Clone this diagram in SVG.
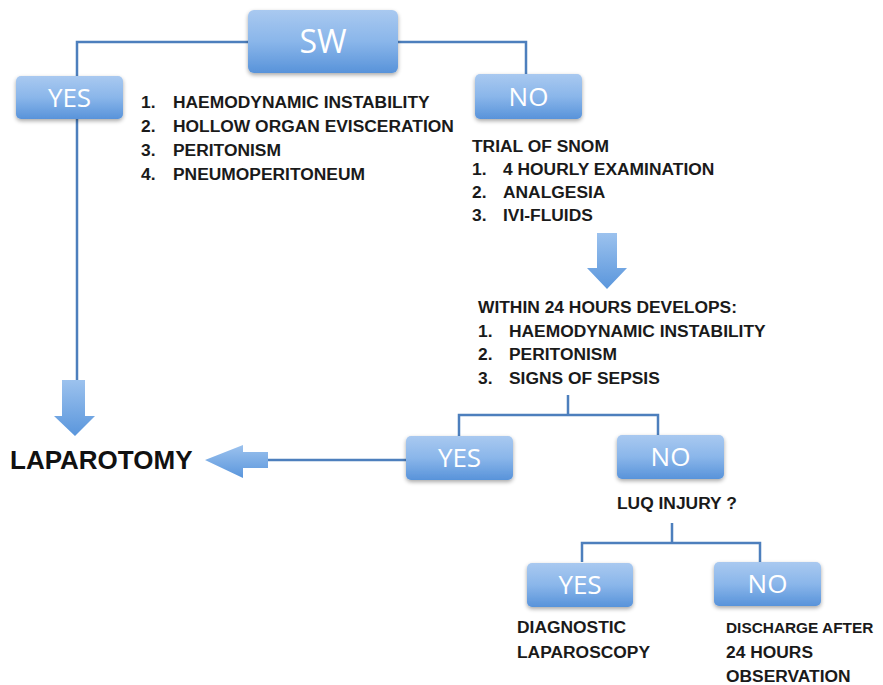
<svg xmlns="http://www.w3.org/2000/svg" width="883" height="685" viewBox="0 0 883 685">
<defs>
<linearGradient id="boxg" x1="0" y1="0" x2="0" y2="1">
<stop offset="0" stop-color="#a9c9f0"/>
<stop offset="0.5" stop-color="#8ab6ea"/>
<stop offset="1" stop-color="#5893da"/>
</linearGradient>
<linearGradient id="arrv" x1="0" y1="0" x2="0" y2="1">
<stop offset="0" stop-color="#9cc2ee"/>
<stop offset="1" stop-color="#5a96dc"/>
</linearGradient>
<linearGradient id="arrh" x1="0" y1="0" x2="0" y2="1">
<stop offset="0" stop-color="#9cc2ee"/>
<stop offset="1" stop-color="#5a96dc"/>
</linearGradient>
<filter id="sh" x="-10%" y="-10%" width="120%" height="140%">
<feGaussianBlur in="SourceAlpha" stdDeviation="2"/>
<feOffset dx="0" dy="2" result="b"/>
<feComponentTransfer><feFuncA type="linear" slope="0.35"/></feComponentTransfer>
<feMerge><feMergeNode/><feMergeNode in="SourceGraphic"/></feMerge>
</filter>
</defs>
<style>
.box{fill:url(#boxg);filter:url(#sh)}
.lbl{font-family:"Open Sans","Liberation Sans",sans-serif;fill:#ffffff;text-anchor:middle;font-size:26px}
.t{font-family:"Liberation Sans",Arial,sans-serif;font-weight:bold;font-size:17.4px;fill:#1a1a1a}
.big{font-family:"Liberation Sans",Arial,sans-serif;font-weight:bold;font-size:26px;fill:#111111}
.ln{fill:none;stroke:#4d7fbd;stroke-width:2.5}
.arr{stroke:none}
</style>
<rect width="883" height="685" fill="#ffffff"/>

<g id="connectors">
<path class="ln" d="M248,42 H77 V76"/>
<path class="ln" d="M398,42 H526 V74"/>
<path class="ln" d="M77,119 V381"/>
<path class="ln" d="M568,395 V415 M459,436 V415 H658 V435"/>
<path class="ln" d="M268,460 H406"/>
<path class="ln" d="M672,523 V543 M582,562 V543 H760 V562"/>
<path class="arr" fill="url(#arrv)" d="M62,380 H85 V416 H95 L75,436 L54,416 H62 Z"/>
<path class="arr" fill="url(#arrv)" d="M597,233 H617 V268 H627 L607,289 L587,268 H597 Z"/>
<path class="arr" fill="url(#arrh)" d="M268,452 V468 H243 V478 L205,460 L243,445 V452 Z"/>
</g>

<g id="sw">
<rect class="box" x="248" y="10" width="150" height="63" rx="6"/>
<text class="lbl" x="323" y="53" style="font-size:32px">SW</text>
</g>
<g id="yes1">
<rect class="box" x="16" y="76" width="107" height="43" rx="5"/>
<text class="lbl" x="69.5" y="107">YES</text>
</g>
<g id="no1">
<rect class="box" x="475" y="74" width="107" height="45" rx="5"/>
<text class="lbl" x="528.5" y="106">NO</text>
</g>
<g id="yes-criteria">
<text class="t" x="141" y="108">1.</text><text class="t" x="173" y="108">HAEMODYNAMIC INSTABILITY</text>
<text class="t" x="141" y="132">2.</text><text class="t" x="173" y="132">HOLLOW ORGAN EVISCERATION</text>
<text class="t" x="141" y="156">3.</text><text class="t" x="173" y="156">PERITONISM</text>
<text class="t" x="141" y="180">4.</text><text class="t" x="173" y="180">PNEUMOPERITONEUM</text>
</g>
<g id="snom">
<text class="t" x="472" y="152">TRIAL OF SNOM</text>
<text class="t" x="472" y="175">1.</text><text class="t" x="503" y="175">4 HOURLY EXAMINATION</text>
<text class="t" x="472" y="198">2.</text><text class="t" x="503" y="198">ANALGESIA</text>
<text class="t" x="472" y="221">3.</text><text class="t" x="503" y="221">IVI-FLUIDS</text>
</g>
<g id="within24">
<text class="t" x="478" y="313">WITHIN 24 HOURS DEVELOPS:</text>
<text class="t" x="478" y="337">1.</text><text class="t" x="509" y="337">HAEMODYNAMIC INSTABILITY</text>
<text class="t" x="478" y="360">2.</text><text class="t" x="509" y="360">PERITONISM</text>
<text class="t" x="478" y="384">3.</text><text class="t" x="509" y="384">SIGNS OF SEPSIS</text>
</g>
<g id="laparotomy">
<text class="big" x="10" y="469">LAPAROTOMY</text>
</g>
<g id="yes2">
<rect class="box" x="406" y="436" width="107" height="44" rx="5"/>
<text class="lbl" x="459.5" y="467">YES</text>
</g>
<g id="no2">
<rect class="box" x="617" y="435" width="107" height="44" rx="5"/>
<text class="lbl" x="670.5" y="466">NO</text>
</g>
<g id="luq">
<text class="t" x="617" y="509">LUQ INJURY ?</text>
</g>
<g id="yes3">
<rect class="box" x="527" y="563" width="106" height="44" rx="5"/>
<text class="lbl" x="580" y="594">YES</text>
</g>
<g id="no3">
<rect class="box" x="714" y="562" width="107" height="44" rx="5"/>
<text class="lbl" x="767.5" y="593">NO</text>
</g>
<g id="diag-lap">
<text class="t" x="517" y="633">DIAGNOSTIC</text>
<text class="t" x="517" y="658">LAPAROSCOPY</text>
</g>
<g id="discharge">
<text class="t" x="726" y="633" style="font-size:15.4px">DISCHARGE AFTER</text>
<text class="t" x="726" y="658">24 HOURS</text>
<text class="t" x="726" y="682">OBSERVATION</text>
</g>
</svg>
